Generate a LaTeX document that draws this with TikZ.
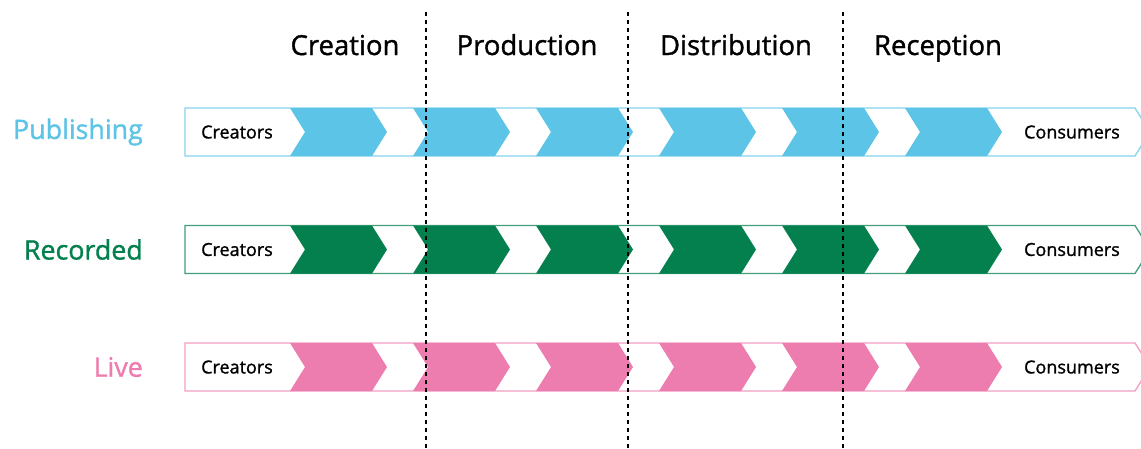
\documentclass[tikz,border=0pt]{standalone}
\usepackage{fontspec}
\setmainfont{Open Sans}
\newfontfamily\heavyfont[FakeBold=1.2]{Open Sans}
\definecolor{pubblue}{HTML}{5CC4E6}
\definecolor{recgreen}{HTML}{047F4E}
\definecolor{livepink}{HTML}{EE7DAF}

\begin{document}
\begin{tikzpicture}[
            x = 1pt, y = -1pt, % pixel grid, origin top left
            phase/.style = {font = \heavyfont\fontsize{27.5}{32}\selectfont, anchor = base},
            sector/.style = {font = \heavyfont\fontsize{26.8}{32}\selectfont, anchor = east, inner sep = 0pt},
            endlabel/.style = {font = \heavyfont\fontsize{18}{21}\selectfont, inner sep = 0pt},
            divider/.style = {draw = black, line width = 1.1pt, dash pattern = on 4pt off 4pt}
        ]

        \useasboundingbox (0,0) rectangle (1141,448);

        % phase headers
        \node[phase] (creation) at (345,55) {Creation};
        \node[phase] (production) at (527,55) {Production};
        \node[phase] (distribution) at (736,55) {Distribution};
        \node[phase] (reception) at (938,55) {Reception};

        % one band per sector
        \foreach \y/\col/\name in {132/pubblue/Publishing, 249.5/recgreen/Recorded, 367/livepink/Live} {
            \draw[\col!75, line width = 1.3pt, fill = white]
                (185,\y-24) -- (1135,\y-24) -- (1150,\y) -- (1135,\y+24) -- (185,\y+24) -- cycle;
            \foreach \x in {290, 413, 536, 659, 782, 905} {
                \fill[\col] (\x,\y-24) -- (\x+82,\y-24) -- (\x+97,\y) -- (\x+82,\y+24)
                    -- (\x,\y+24) -- (\x+15,\y) -- cycle;
            }
            \node[sector, text = \col] (\name) at (143,\y) {\name};
            \node[endlabel, anchor = west] (\name-start) at (201,\y) {Creators};
            \node[endlabel, anchor = east] (\name-end) at (1120,\y) {Consumers};
        }

        % phase boundaries
        \foreach \x in {426, 628, 843} {
            \draw[divider] (\x,12) -- (\x,448);
        }

    \end{tikzpicture}
\end{document}
